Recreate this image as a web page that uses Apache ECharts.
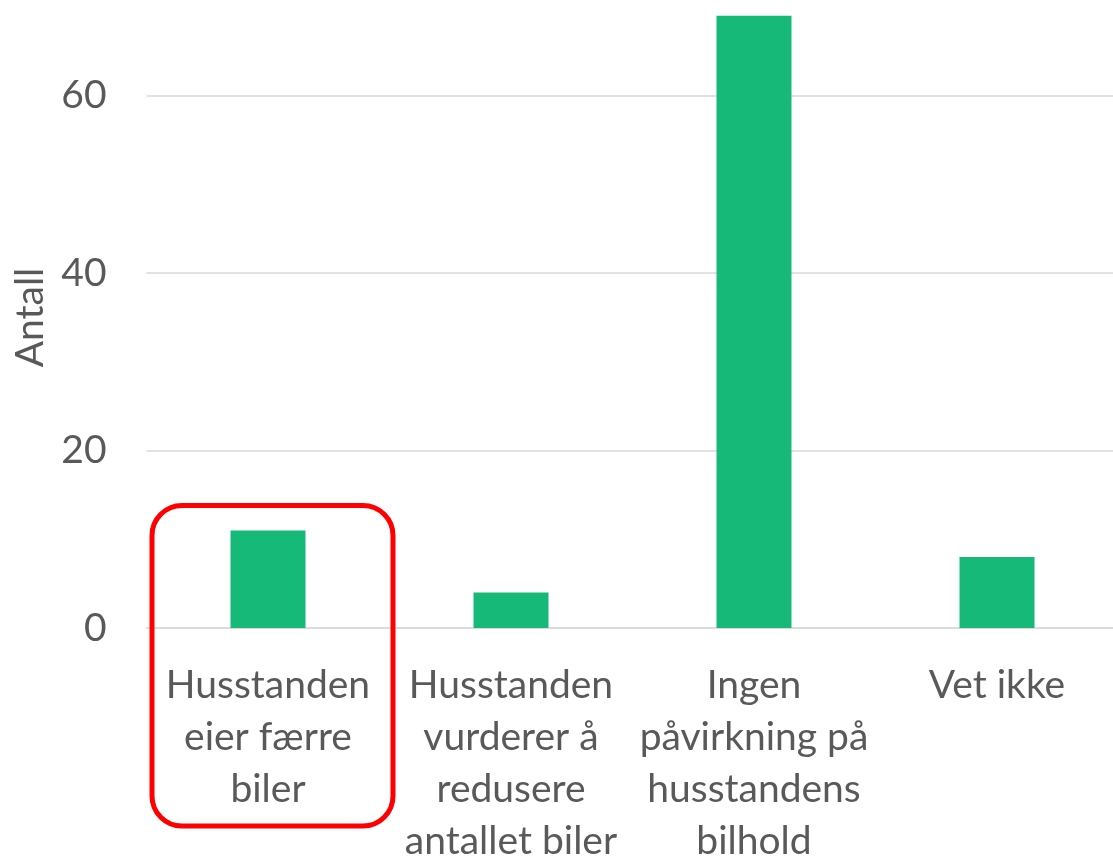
<!DOCTYPE html>
<html>
<head>
<meta charset="utf-8">
<script src="https://cdn.jsdelivr.net/npm/echarts@6/dist/echarts.min.js"></script>
<style>
html,body{margin:0;padding:0;background:#fff;}
#chart{width:1113px;height:857px;}
</style>
</head>
<body>
<div id="chart"></div>
<script>
const categories = [
  "Husstanden\neier færre\nbiler",
  "Husstanden\nvurderer å\nredusere\nantallet biler",
  "Ingen\npåvirkning på\nhusstandens\nbilhold",
  "Vet ikke"
];
const values = [11, 4, 69, 8];
const yAxisName = "Antall";
const highlightIndex = 0;

const FONT = "Lato";
const TEXT = "#595959";
const chart = echarts.init(document.getElementById('chart'), null, {renderer: 'canvas'});
const option = {
  animation: false,
  backgroundColor: '#ffffff',
  grid: {left: 146.5, top: 7, width: 972, height: 621, containLabel: false, outerBoundsMode: 'none'},
  xAxis: {
    type: 'category',
    data: categories,
    axisLine: {show: true, lineStyle: {color: '#D9D9D9', width: 1.5}},
    axisTick: {show: false},
    axisLabel: {interval: 0, color: TEXT, fontFamily: FONT, fontSize: 39, lineHeight: 52, margin: 31, align: 'center'}
  },
  yAxis: {
    type: 'value',
    min: 0, max: 70, interval: 20,
    name: yAxisName,
    nameLocation: 'middle',
    nameGap: 94,
    nameTextStyle: {color: TEXT, fontFamily: FONT, fontSize: 39},
    axisLine: {show: false},
    axisTick: {show: false},
    axisLabel: {color: TEXT, fontFamily: FONT, fontSize: 39, margin: 40, showMaxLabel: false},
    splitLine: {show: true, showMaxLine: false, lineStyle: {color: '#D9D9D9', width: 1.5}}
  },
  series: [{
    type: 'bar',
    data: values,
    barWidth: 75,
    itemStyle: {color: '#17B978'}
  }]
};
chart.setOption(option);

// annotation: rounded red box around highlighted category
const c = chart.convertToPixel({xAxisIndex: 0, yAxisIndex: 0}, [highlightIndex, values[highlightIndex]]);
chart.setOption({
  graphic: [{
    type: 'rect',
    shape: {x: c[0] - 116, y: c[1] - 25, width: 241, height: 826 - (c[1] - 25), r: 30},
    style: {fill: 'none', stroke: '#FF0000', lineWidth: 5},
    z: 100
  }]
});
</script>
</body>
</html>
